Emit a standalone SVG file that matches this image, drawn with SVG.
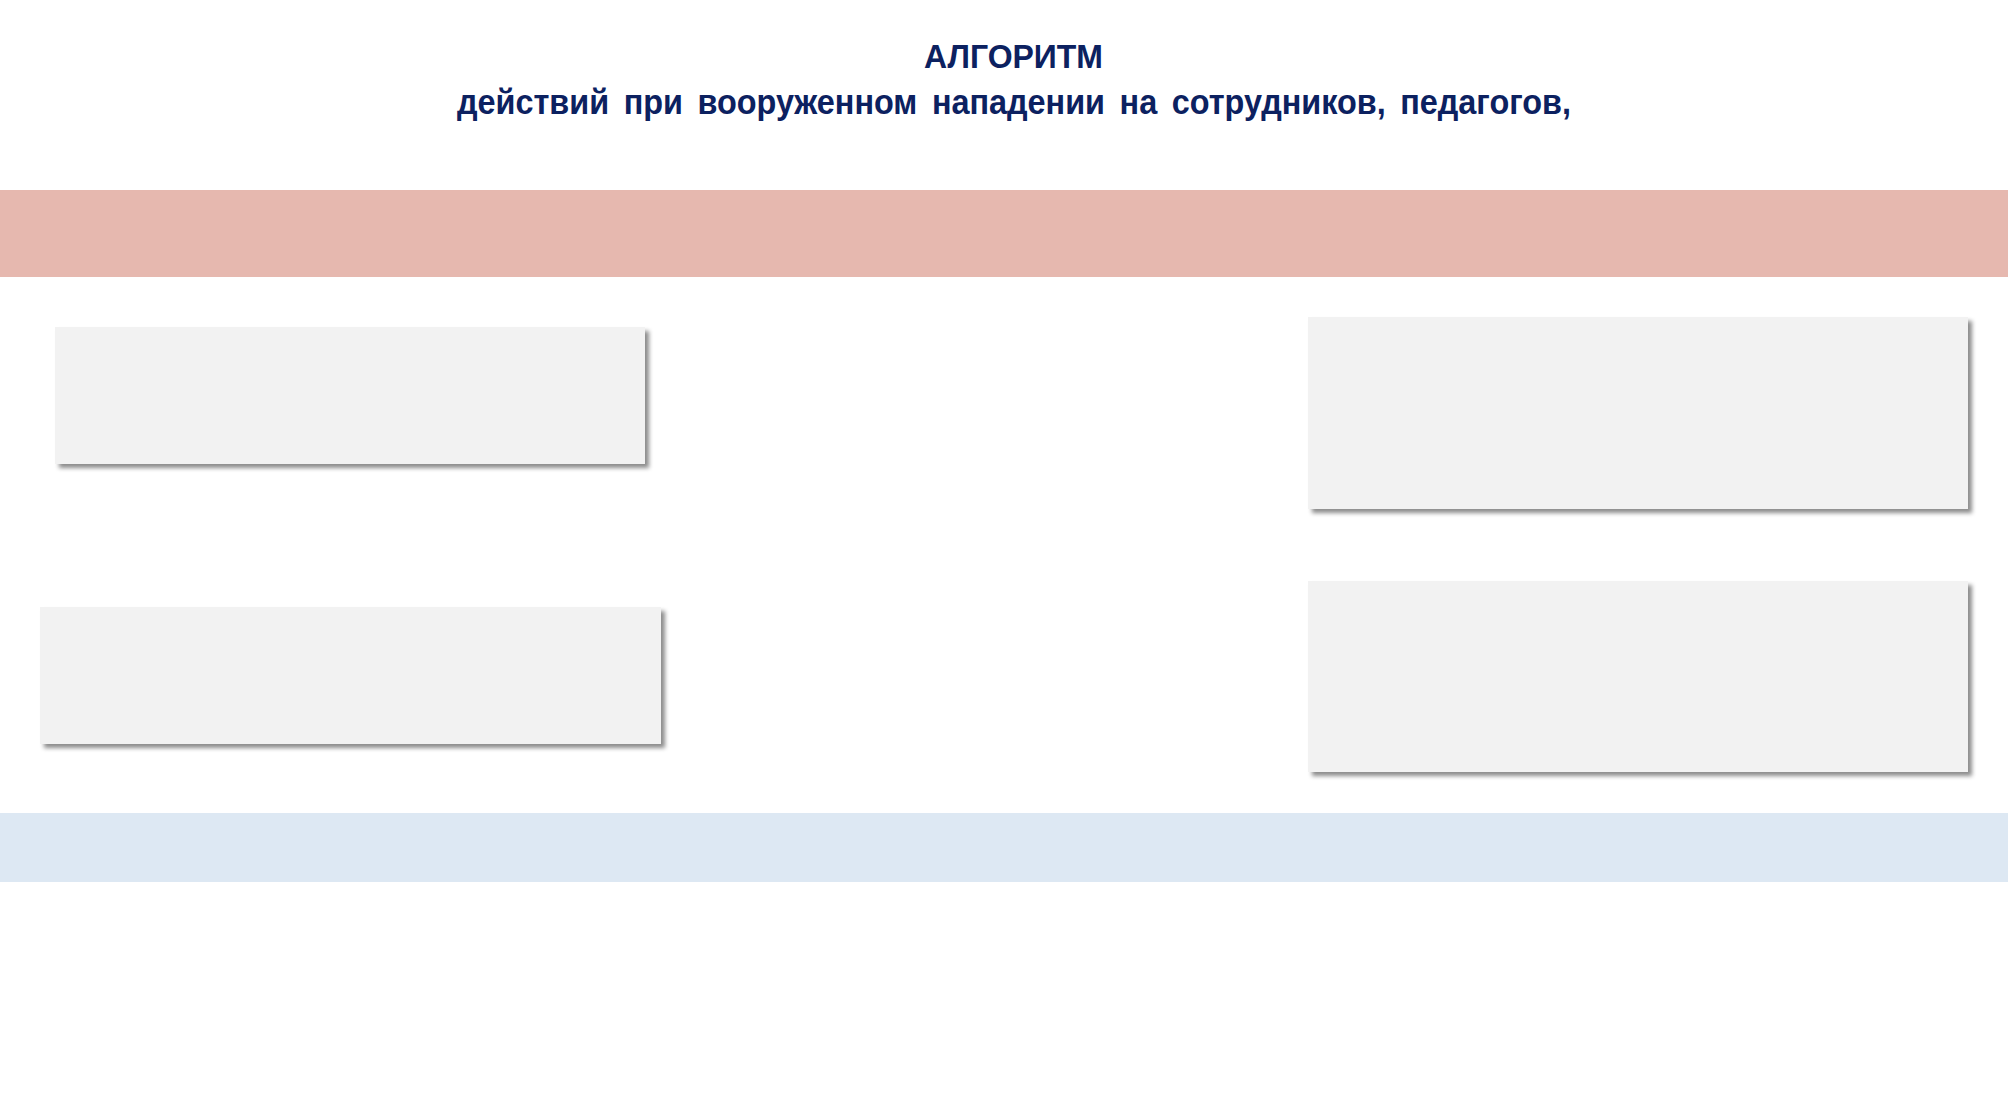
<svg xmlns="http://www.w3.org/2000/svg" width="2008" height="1111" viewBox="0 0 2008 1111">
  <style>
    .title { font-family: "Liberation Sans", Arial, sans-serif; font-weight: bold; fill: #0C2160; text-anchor: middle; }
    .band-top { fill: #E6B8AF; }
    .band-bottom { fill: #DDE8F3; }
    .box { fill: #F2F2F2; filter: url(#shadow); }
  </style>
  <defs>
    <filter id="shadow" x="-5%" y="-10%" width="115%" height="130%">
      <feDropShadow dx="4" dy="4" stdDeviation="2.2" flood-color="#000000" flood-opacity="0.45"/>
    </filter>
  </defs>
  <rect width="2008" height="1111" fill="#FFFFFF"/>

  <g id="header">
    <text class="title" x="1013.5" y="68" font-size="34" textLength="179" lengthAdjust="spacingAndGlyphs">АЛГОРИТМ</text>
    <text class="title" x="1014" y="114" font-size="35" word-spacing="6" textLength="1114" lengthAdjust="spacingAndGlyphs">действий при вооруженном нападении на сотрудников, педагогов,</text>
  </g>

  <g id="band-top"><rect class="band-top" x="0" y="190" width="2008" height="87"/></g>
  <g id="band-bottom"><rect class="band-bottom" x="0" y="813" width="2008" height="69"/></g>

  <g id="box1"><rect class="box" x="55" y="327" width="590" height="137"/></g>
  <g id="box2"><rect class="box" x="40" y="607" width="621" height="137"/></g>
  <g id="box3"><rect class="box" x="1308" y="317" width="660" height="192"/></g>
  <g id="box4"><rect class="box" x="1308" y="581" width="660" height="191"/></g>

  <g id="connectors"></g>
</svg>
